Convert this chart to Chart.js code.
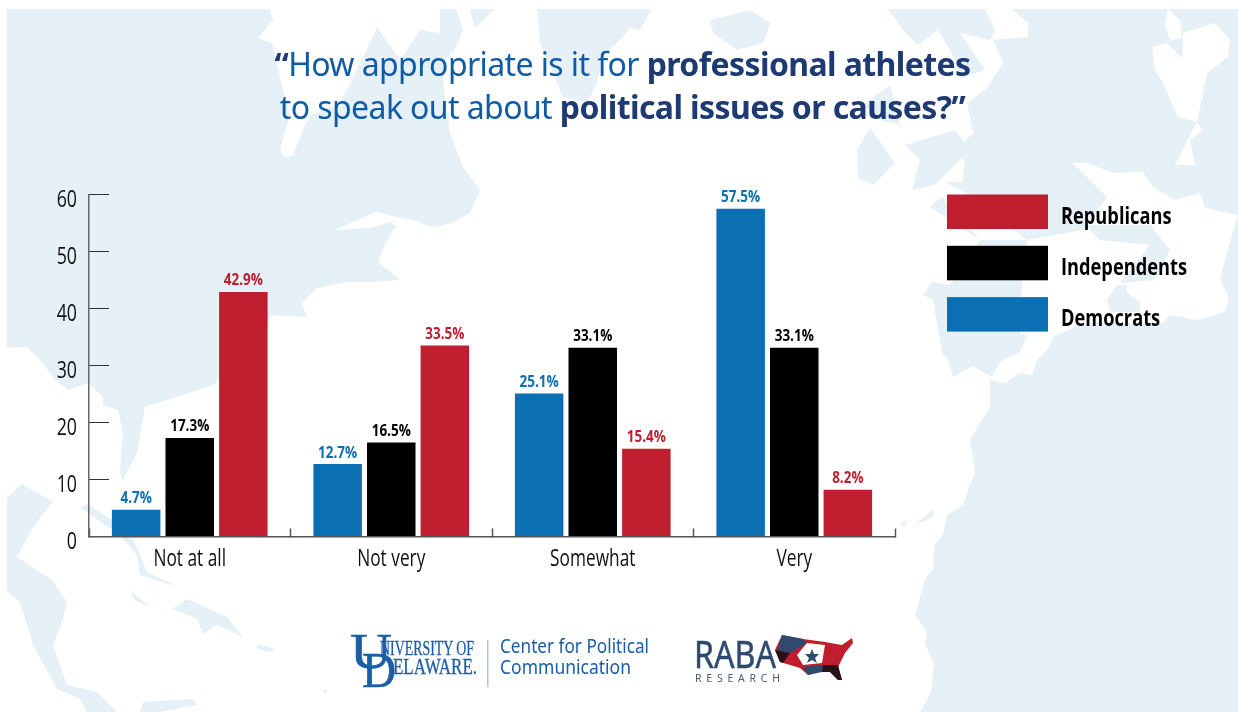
<!DOCTYPE html>
<html lang="en">
<head>
<meta charset="UTF-8">
<title>Athletes speaking out</title>
<script src="https://cdn.jsdelivr.net/npm/chart.js"></script>
<style>
    html, body { margin: 0; padding: 0; background: #fff; overflow: hidden; }
    #map, #chart { position: absolute; left: 0; top: 0; }
    #title {
        position: absolute; left: 0; top: 42px; width: 1245px; text-align: center;
        font-family: "Noto Sans", sans-serif; font-size: 32px; line-height: 43px;
        color: #0f5ba6; letter-spacing: -0.6px;
    }
    #title b { color: #1e3a72; font-weight: 700; }
    #logos { position: absolute; left: 0; top: 0; }
</style>
</head>
<body>
<svg id="map" width="1238" height="712" viewBox="0 0 1238 712">
    <defs><clipPath id="frame"><rect x="7" y="9" width="1231" height="703"/></clipPath></defs>
    <g clip-path="url(#frame)">
        <g fill="#e5f0f7">
            <!-- north america -->
            <polygon points="0,0 453,0 463,30 455,50 445,60 443,83 450,133 463,167 480,190 470,213 455,222 435,227 410,222 395,228 385,245 378,262 400,280 373,282 347,282 317,288 302,303 307,317 270,315 265,340 213,385 145,407 137,453 122,482 120,472 123,433 118,410 103,405 103,397 88,383 68,390 55,380 43,363 27,347 0,348"/>
            <polygon points="470,9 495,9 475,28"/>
            <!-- greenland and iceland -->
            <polygon points="537,9 652,9 640,30 630,28 623,37 602,57 597,83 587,103 563,97 550,67 540,43"/>
            <polygon points="710,20 750,10 770,23 763,43 737,50 713,33"/>
            <!-- spiky islands top right of the title -->
            <polygon points="888,9 985,9 995,30 990,40 960,33 985,70 962,78 950,50 938,30 918,45 903,30"/>
            <polygon points="857,150 870,128 895,163 873,185 858,178"/>
            <polygon points="905,145 955,130 970,150 935,185 912,190 920,160"/>
            <polygon points="863,105 890,85 900,125 880,120"/>
            <!-- eurasia and africa block -->
            <polygon points="1012,9 1238,9 1238,712 920,712 931,692 934,664 925,644 927,632 915,615 925,579 933,569 934,545 943,535 947,515 963,505 975,472 970,440 990,407 990,380 992,377 1000,362 1020,352 1028,335 1020,333 1022,287 1027,240 973,197 945,182 962,182 965,163 957,150 973,133 967,103 987,88 1003,63 993,40 1028,37 1028,23"/>
            <!-- iberia -->
            <polygon points="930,207 942,197 980,240 1027,240 1022,287 1020,333 1028,335 1020,352 1000,362 992,377 973,366 953,377 947,358 942,353 933,300 923,295 932,282 950,285 980,240"/>
            <!-- gulf side -->
            <polygon points="0,504 22,484 53,502 42,515 32,529 17,557 52,580 67,602 62,622 53,645 67,685 97,692 117,712 87,712 80,699 57,689 33,645 20,602 0,585"/>
            <polygon points="80,508 87,504 120,525 133,539 147,572 178,587 140,575 137,555 120,535"/>
            <polygon points="172,609 187,599 227,617 243,637 217,625 203,634 197,619"/>
            <polygon points="130,590 150,607 135,600"/>
            <polygon points="257,644 275,649 270,652 257,649"/>
            <polygon points="322,689 328,690 325,694"/>
            <polygon points="140,712 143,702 193,699 197,705 160,712"/>
            <polygon points="900,525 907,519 905,527"/>
            <polygon points="914,525 934,509 933,517"/>
        </g>
        <g fill="#fff">
            <!-- hudson bay -->
            <polygon points="267,0 273,20 258,38 272,43 283,90 290,115 280,150 285,157 293,155 305,125 311,115 340,103 352,80 370,43 377,27 400,60 420,30 440,33 440,0"/>
            <polygon points="335,230 375,212 420,222 420,242 390,222 370,228"/>
            <!-- europe -->
            <polygon points="1073,163 1087,163 1113,173 1143,172 1153,187 1175,200 1200,193 1205,208 1238,215 1225,260 1220,280 1229,298 1225,312 1197,320 1170,315 1163,323 1083,323 1053,337 1047,350 1037,360 1032,375 1020,373 1005,383 990,380 1000,362 1020,352 1028,335 1020,333 1022,287 1027,240 1083,230 1107,197"/>
            <polygon points="1152,47 1167,43 1182,58 1183,33 1215,23 1230,40 1228,57 1207,73 1197,122 1178,117 1163,83 1155,70"/>
            <polygon points="1168,9 1180,20 1182,38 1170,40 1165,25"/>
            <polygon points="1197,122 1203,130 1190,140 1195,165 1175,165 1190,135"/>
        </g>
        <g fill="#e5f0f7">
            <polygon points="1085,225 1150,225 1170,250 1153,280 1120,283 1150,245 1100,240"/>
            <polygon points="1107,300 1117,285 1127,285 1127,292 1140,303 1140,312 1110,312"/>
        </g>
    </g>
</svg>
<canvas id="chart" width="1238" height="712"></canvas>
<div id="title"><b>“</b>How appropriate is it for <b>professional athletes</b><br>to speak out about <b>political issues or causes?”</b></div>
<svg id="logos" width="1238" height="712" viewBox="0 0 1238 712">
    <g fill="#1a5ea8" stroke="#1a5ea8">
        <text x="350" y="668" font-family="Liberation Serif" font-size="50" stroke-width="0.6" textLength="42" lengthAdjust="spacingAndGlyphs">U</text>
        <text x="362" y="687" font-family="Liberation Serif" font-size="50" stroke-width="0.6" textLength="34" lengthAdjust="spacingAndGlyphs">D</text>
        <text x="380" y="655" font-family="Liberation Serif" font-size="20" stroke-width="0.3" textLength="94" lengthAdjust="spacingAndGlyphs">NIVERSITY OF</text>
        <text x="393" y="674" font-family="Liberation Serif" font-size="23" stroke-width="0.3" textLength="84" lengthAdjust="spacingAndGlyphs">ELAWARE.</text>
    </g>
    <rect x="487" y="640" width="1.5" height="47" fill="#a9c6e0"/>
    <g fill="#1a5ea8">
        <text x="500" y="653" font-family="Noto Sans" font-size="19" textLength="149" lengthAdjust="spacingAndGlyphs">Center for Political</text>
        <text x="500" y="674" font-family="Noto Sans" font-size="19" textLength="131" lengthAdjust="spacingAndGlyphs">Communication</text>
    </g>
    <text x="694" y="668" font-family="Noto Sans" font-size="39" fill="#2f4a6f" stroke="#2f4a6f" stroke-width="0.5" textLength="82" lengthAdjust="spacingAndGlyphs">RABA</text>
    <text x="695" y="682" font-family="Noto Sans" font-size="10.5" fill="#4a5a70" textLength="85" lengthAdjust="spacing">RESEARCH</text>
    <!-- raba map -->
    <polygon points="782,635 803,639 825,642 842,645 852,638 853,643 845,653 838,667 842,680 838,680 830,672 817,672 808,675 800,668 780,662 775,650" fill="#be1e2d"/>
    <polygon points="782,635 803,639 807,643 790,653 777,652" fill="#2f4a6f"/>
    <polygon points="775,650 790,653 783,663 780,662" fill="#2a1018"/>
    <polygon points="807,643 825,645 822,663 803,665 797,655" fill="#fff"/>
    <polygon points="803,667 823,665 822,672 808,675" fill="#2f4a6f"/>
    <polygon points="823,665 838,665 842,680 838,680 830,672 822,672" fill="#2a1018"/>
    <polygon points="812,649 814,654 819,654 815,658 817,663 812,660 807,663 809,658 805,654 810,654" fill="#2f4a6f"/>
</svg>
<script>
const categories = ["Not at all", "Not very", "Somewhat", "Very"];
const democrats = [4.7, 12.7, 25.1, 57.5];
const independents = [17.3, 16.5, 33.1, 33.1];
const republicans = [42.9, 33.5, 15.4, 8.2];

const face = '"Open Sans", sans-serif';

// no condensed font here, so squeeze the text sideways
function squeezed(ctx, text, x, y, sx) {
    ctx.save();
    ctx.translate(x, y);
    ctx.scale(sx, 1);
    ctx.fillText(text, 0, 0);
    ctx.restore();
}

// tick labels from the scales, value above each bar
const textLayer = {
    id: "textLayer",
    afterDatasetsDraw(chart) {
        const ctx = chart.ctx;
        ctx.save();
        ctx.textBaseline = "alphabetic";

        ctx.font = "bold 15.5px " + face;
        ctx.textAlign = "center";
        chart.data.datasets.forEach((ds, i) => {
            ctx.fillStyle = ds.backgroundColor;
            chart.getDatasetMeta(i).data.forEach((bar, j) => {
                squeezed(ctx, ds.data[j].toFixed(1) + "%", bar.x, bar.y - 6.5, 0.87);
            });
        });

        ctx.font = "24px " + face;
        ctx.fillStyle = "#111";
        chart.scales.x.ticks.forEach((t, i) => {
            squeezed(ctx, t.label, chart.scales.x.getPixelForTick(i), 566, 0.72);
        });
        ctx.textAlign = "right";
        chart.scales.y.ticks.forEach((t, i) => {
            squeezed(ctx, t.label, 77, chart.scales.y.getPixelForTick(i) + 12, 0.74);
        });

        // legend sits apart from the plot, republicans first
        ctx.textAlign = "left";
        ctx.font = "bold 24px " + face;
        chart.data.datasets.slice().reverse().forEach((ds, i) => {
            const top = 194.5 + i * 51.3;
            ctx.fillStyle = ds.backgroundColor;
            ctx.fillRect(947, top, 101, 34.5);
            ctx.fillStyle = "#000";
            squeezed(ctx, ds.label, 1061, top + 29, 0.76);
        });
        ctx.restore();
    }
};

new Chart(document.getElementById("chart"), {
    type: "bar",
    data: {
        labels: categories,
        datasets: [
            { label: "Democrats", data: democrats, backgroundColor: "#0a70b3" },
            { label: "Independents", data: independents, backgroundColor: "#000000" },
            { label: "Republicans", data: republicans, backgroundColor: "#be1e2d" }
        ]
    },
    options: {
        responsive: false,
        animation: false,
        categoryPercentage: 0.798,
        barPercentage: 0.905,
        layout: { padding: { left: 0, top: 194.5, right: 343, bottom: 0 } },
        plugins: { legend: { display: false }, tooltip: { enabled: false } },
        scales: {
            x: {
                afterFit(scale) { scale.height = 175.5; },
                border: { color: "#555", width: 1.5 },
                grid: { drawOnChartArea: false, offset: true, tickLength: -8, tickColor: "#555", tickWidth: 1.5 },
                ticks: { display: false }
            },
            y: {
                min: 0,
                max: 60,
                afterFit(scale) { scale.width = 89; },
                border: { color: "#666", width: 1.5 },
                grid: { drawOnChartArea: false, tickLength: -20, tickColor: "#333", tickWidth: 1 },
                ticks: { display: false, stepSize: 10 }
            }
        }
    },
    plugins: [textLayer]
});
</script>
</body>
</html>
